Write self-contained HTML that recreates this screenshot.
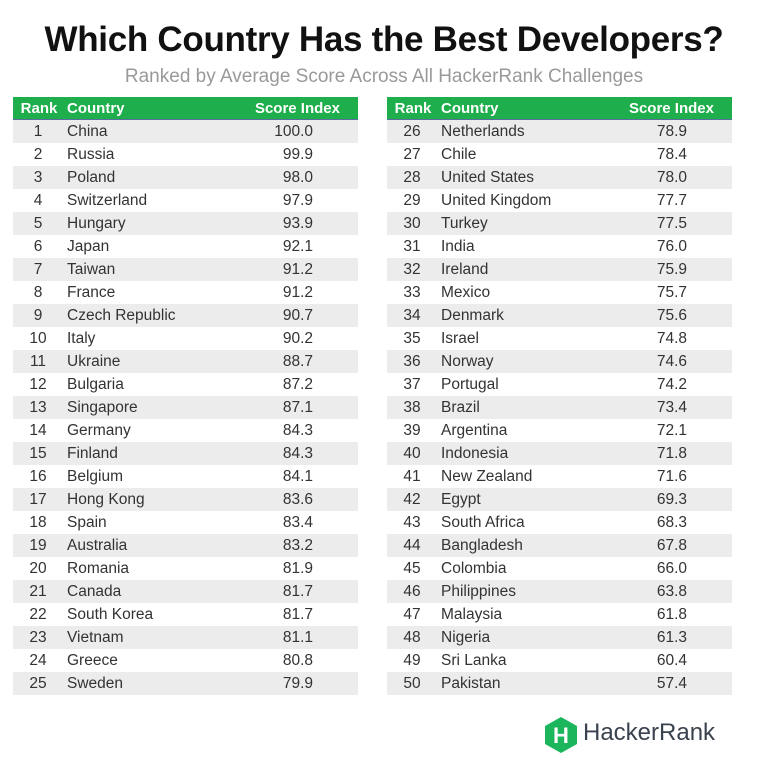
<!DOCTYPE html>
<html><head><meta charset="utf-8"><style>
body{margin:0;width:768px;height:770px;background:#fff;font-family:"Liberation Sans",sans-serif;position:relative;overflow:hidden}
#title{position:absolute;left:0;width:768px;top:20px;text-align:center;font-size:35px;font-weight:bold;color:#111;letter-spacing:-0.3px}
#sub{position:absolute;left:0;width:768px;top:66px;text-align:center;font-size:19px;color:#999}
.tbl{position:absolute;top:97px;width:345px}
.hdr{height:22px;background:#1eae4b;border-bottom:1px solid #5a6fa0;color:#fff;font-weight:bold;font-size:15px;position:relative}
.row{height:23px;position:relative;font-size:15.5px;color:#333}
.row.g{background:#ececec}
.c1{position:absolute;left:0;width:50px;text-align:center;top:3px}
.c2{position:absolute;left:54px;top:3px}
.c3{position:absolute;right:45px;top:3px;text-align:right}
.hdr .c1{width:52px}
.hdr .c3{right:18px}
#logo{position:absolute;left:543px;top:716px}
#logotext{position:absolute;left:583px;top:719px;font-size:24px;color:#39424e}
</style></head><body>
<div id="title">Which Country Has the Best Developers?</div>
<div id="sub">Ranked by Average Score Across All HackerRank Challenges</div>
<div class="tbl" id="t1" style="left:13px"></div>
<div class="tbl" id="t2" style="left:387px"></div>
<svg id="logo" width="36" height="38" viewBox="0 0 36 38"><polygon points="18,1 34,10 34,28 18,37 2,28 2,10" fill="#1bb55c"/><text x="18" y="27" font-family="Liberation Sans" font-weight="bold" font-size="22" fill="#fff" text-anchor="middle">H</text></svg>
<div id="logotext">HackerRank</div>
<script>
const countries=["China","Russia","Poland","Switzerland","Hungary","Japan","Taiwan","France","Czech Republic","Italy","Ukraine","Bulgaria","Singapore","Germany","Finland","Belgium","Hong Kong","Spain","Australia","Romania","Canada","South Korea","Vietnam","Greece","Sweden","Netherlands","Chile","United States","United Kingdom","Turkey","India","Ireland","Mexico","Denmark","Israel","Norway","Portugal","Brazil","Argentina","Indonesia","New Zealand","Egypt","South Africa","Bangladesh","Colombia","Philippines","Malaysia","Nigeria","Sri Lanka","Pakistan"];
const scores=[100.0,99.9,98.0,97.9,93.9,92.1,91.2,91.2,90.7,90.2,88.7,87.2,87.1,84.3,84.3,84.1,83.6,83.4,83.2,81.9,81.7,81.7,81.1,80.8,79.9,78.9,78.4,78.0,77.7,77.5,76.0,75.9,75.7,75.6,74.8,74.6,74.2,73.4,72.1,71.8,71.6,69.3,68.3,67.8,66.0,63.8,61.8,61.3,60.4,57.4];
const headers=["Rank","Country","Score Index"];
function build(el,start){
  const h=document.createElement('div');h.className='hdr';
  
  
  headers.forEach((t,i)=>{const s=document.createElement('span');s.className='c'+(i+1);s.textContent=t;
    
    h.appendChild(s);});
  el.appendChild(h);
  for(let i=start;i<start+25;i++){
    const r=document.createElement('div');r.className='row'+((i-start)%2===0?' g':'');
    
    
    const vals=[String(i+1),countries[i],scores[i].toFixed(1)];
    vals.forEach((t,j)=>{const s=document.createElement('span');s.className='c'+(j+1);s.textContent=t;r.appendChild(s);});
    el.appendChild(r);
  }
}
build(document.getElementById('t1'),0);
build(document.getElementById('t2'),25);
</script>
</body></html>
